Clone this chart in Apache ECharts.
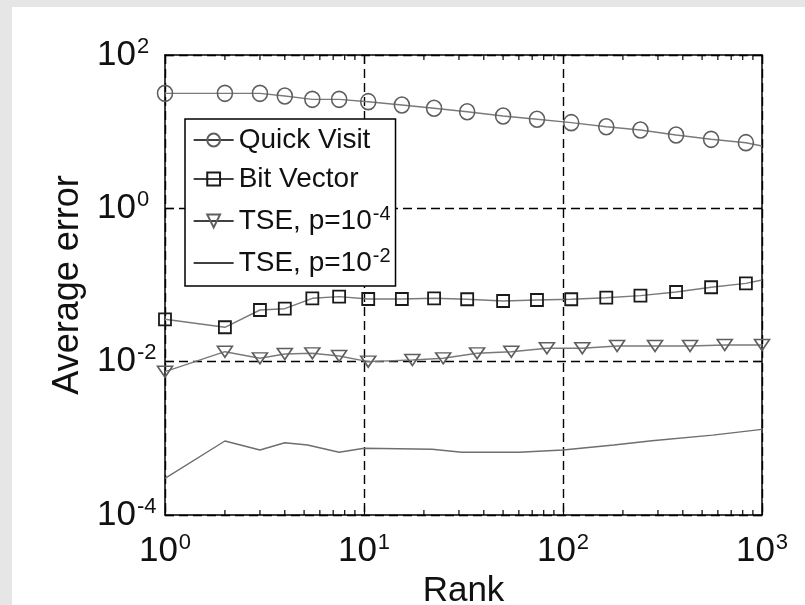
<!DOCTYPE html>
<html><head><meta charset="utf-8">
<script src="https://cdn.jsdelivr.net/npm/echarts@6/dist/echarts.min.js"></script>
<style>
html,body{margin:0;padding:0;background:#e6e6e6;width:805px;height:605px;overflow:hidden}
#c{position:absolute;left:12px;top:7px;width:793px;height:598px;background:#fff}
</style>
</head><body><div id="c"></div>
<script>
// ---- data ----
var rankMain = [1,2,3,4,5.5,7.5,10.5,15.5,22.5,33,50,74,110,165,245,370,555,830,1000];
var quickVisit = [31.6,31.6,31.6,29.2,26.4,26.4,24.6,22.3,20.2,18.2,16.0,14.5,13.1,11.6,10.5,9.06,7.95,7.18,6.5];
var bitVector = [0.0357,0.0281,0.0472,0.0491,0.0671,0.0705,0.0657,0.0657,0.0671,0.0652,0.0618,0.0637,0.0652,0.0683,0.0726,0.0811,0.0934,0.105,0.116];
var rankTse4 = [1,2,3,4,5.5,7.5,10.5,17.5,25,37,55,83,125,187,290,435,650,1000];
var tse4 = [0.0074,0.01349,0.01106,0.01259,0.01285,0.01186,0.0100,0.01052,0.01106,0.01285,0.01349,0.01496,0.01496,0.01603,0.01603,0.01603,0.01649,0.01649];
var rankTse2 = [1,2,3,4,5.2,7.5,10,22,31,48,60,100,180,280,565,1000];
var tse2 = [0.000301,0.000923,0.000705,0.000877,0.000818,0.000658,0.000741,0.000719,0.000658,0.000658,0.000658,0.000705,0.000818,0.000931,0.0011,0.00131];
var seriesNames = ['Quick Visit','Bit Vector','TSE, p=10^-4','TSE, p=10^-2'];
var minorTicksX = [2,3,4,5,6,7,8,9,20,30,40,50,60,70,80,90,200,300,400,500,600,700,800,900];
var X_MIN = 1, X_MAX = 1000, Y_MIN = 1e-4, Y_MAX = 100;

var FONT = 'Liberation Sans, Arial, Helvetica, sans-serif';
function pairs(xs, ys, lastNoSymbol) {
  return xs.map(function (x, i) {
    if (lastNoSymbol && i === xs.length - 1) return {value: [x, ys[i]], symbol: 'none'};
    return [x, ys[i]];
  });
}
function expLabel(v) {
  var e = Math.round(Math.log10(v));
  return '{b|10}{s|' + e + '}';
}
var tickRich = {
  b: {fontSize: 35, fontFamily: FONT, color: '#111', verticalAlign: 'bottom', lineHeight: 35},
  s: {fontSize: 22, fontFamily: FONT, color: '#111', verticalAlign: 'bottom', lineHeight: 22, padding: [0, 0, 15, 1]}
};
var legendRich = {
  b: {fontSize: 28, fontFamily: FONT, color: '#111', verticalAlign: 'bottom', lineHeight: 28},
  s: {fontSize: 20, fontFamily: FONT, color: '#111', verticalAlign: 'bottom', lineHeight: 20, padding: [0, 0, 11, 1]}
};
var axisLineStyle = {color: '#000', width: 1.5};
var dashed = {color: '#000', width: 1.4, type: [9, 5]};

var chart = echarts.init(document.getElementById('c'), null, {renderer: 'canvas'});
chart.setOption({
  animation: false,
  backgroundColor: '#fff',
  grid: {left: 153, top: 48, width: 597, height: 460, containLabel: false, outerBoundsMode: 'none'},
  legend: {
    orient: 'vertical', left: 173, top: 112,
    backgroundColor: '#fff', borderColor: '#000', borderWidth: 1.5,
    padding: [7, 5, 9, 8], itemGap: 11, itemWidth: 40, itemHeight: 16,
    textStyle: {fontSize: 28, fontFamily: FONT, color: '#111', lineHeight: 28, rich: legendRich},
    formatter: function (name) {
      return name.replace(/10\^(-?\d+)/, '{b|10}{s|$1}');
    },
    data: [
      {name: seriesNames[0], lineStyle: {color: '#000', width: 1.3}},
      {name: seriesNames[1], lineStyle: {color: '#000', width: 1.3}},
      {name: seriesNames[2], lineStyle: {color: '#000', width: 1.3}},
      {name: seriesNames[3], lineStyle: {color: '#000', width: 1.3}, itemStyle: {opacity: 0}}
    ]
  },
  xAxis: [{
    type: 'log', logBase: 10, min: X_MIN, max: X_MAX, interval: 1,
    name: 'Rank', nameLocation: 'middle', nameGap: 51,
    nameTextStyle: {fontSize: 35, fontFamily: FONT, color: '#111'},
    axisLine: {show: true, lineStyle: axisLineStyle},
    axisTick: {show: true, inside: true, length: 9, lineStyle: {color: '#000', width: 1.2}},
    axisLabel: {formatter: expLabel, rich: tickRich, margin: 19, showMinLabel: true, showMaxLabel: true, hideOverlap: false, interval: 0},
    splitLine: {show: true, lineStyle: dashed},
    minorTick: {show: false}
  }, {
    type: 'log', logBase: 10, min: X_MIN, max: X_MAX, interval: 1, position: 'top',
    axisLine: {show: true, lineStyle: axisLineStyle},
    axisTick: {show: true, inside: true, length: 9, lineStyle: {color: '#000', width: 1.2}},
    axisLabel: {show: false}, splitLine: {show: false}
  }],
  yAxis: [{
    type: 'log', logBase: 10, min: Y_MIN, max: Y_MAX, interval: 2,
    name: 'Average error', nameLocation: 'middle', nameGap: 78,
    nameTextStyle: {fontSize: 36, fontFamily: FONT, color: '#111'},
    axisLine: {show: true, lineStyle: axisLineStyle},
    axisTick: {show: true, inside: true, length: 9, lineStyle: {color: '#000', width: 1.2}},
    axisLabel: {formatter: expLabel, rich: tickRich, margin: 68, align: 'left', showMinLabel: true, showMaxLabel: true, hideOverlap: false, interval: 0},
    splitLine: {show: true, lineStyle: dashed}
  }, {
    type: 'log', logBase: 10, min: Y_MIN, max: Y_MAX, interval: 2, position: 'right',
    axisLine: {show: true, lineStyle: axisLineStyle},
    axisTick: {show: true, inside: true, length: 9, lineStyle: {color: '#000', width: 1.2}},
    axisLabel: {show: false}, splitLine: {show: false}
  }],
  series: [{
    name: seriesNames[0], type: 'line', data: pairs(rankMain, quickVisit, true),
    symbol: 'circle', symbolSize: [15, 16], showAllSymbol: true,
    lineStyle: {color: '#7a7a7a', width: 1.4},
    itemStyle: {color: 'rgba(255,255,255,0)', borderColor: '#5e5e5e', borderWidth: 1.6},
    emphasis: {disabled: true}, z: 3
  }, {
    name: seriesNames[1], type: 'line', data: pairs(rankMain, bitVector, true),
    symbol: 'rect', symbolSize: [12, 12], showAllSymbol: true,
    lineStyle: {color: '#7a7a7a', width: 1.4},
    itemStyle: {color: 'rgba(255,255,255,0)', borderColor: '#1a1a1a', borderWidth: 1.8},
    emphasis: {disabled: true}, z: 3
  }, {
    name: seriesNames[2], type: 'line', data: pairs(rankTse4, tse4, false),
    symbol: 'triangle', symbolRotate: 180, symbolSize: [15, 11], showAllSymbol: true,
    lineStyle: {color: '#7a7a7a', width: 1.4},
    itemStyle: {color: 'rgba(255,255,255,0)', borderColor: '#5e5e5e', borderWidth: 1.6},
    emphasis: {disabled: true}, z: 3
  }, {
    name: seriesNames[3], type: 'line', data: pairs(rankTse2, tse2, false),
    symbol: 'none', showSymbol: false,
    lineStyle: {color: '#6e6e6e', width: 1.4},
    itemStyle: {color: '#6e6e6e'},
    emphasis: {disabled: true}, z: 3
  }, {
    name: 'minorTicks', type: 'custom', silent: true, clip: false, z: 5,
    data: minorTicksX.map(function (v) { return [v, Y_MIN]; }),
    renderItem: function (params, api) {
      var v = api.value(0);
      var b = api.coord([v, Y_MIN]);
      var t = api.coord([v, Y_MAX]);
      return {type: 'group', children: [
        {type: 'line', shape: {x1: b[0], y1: b[1], x2: b[0], y2: b[1] - 5}, style: {stroke: '#000', lineWidth: 1.2}},
        {type: 'line', shape: {x1: t[0], y1: t[1], x2: t[0], y2: t[1] + 5}, style: {stroke: '#000', lineWidth: 1.2}}
      ]};
    }
  }]
});
</script></body></html>
